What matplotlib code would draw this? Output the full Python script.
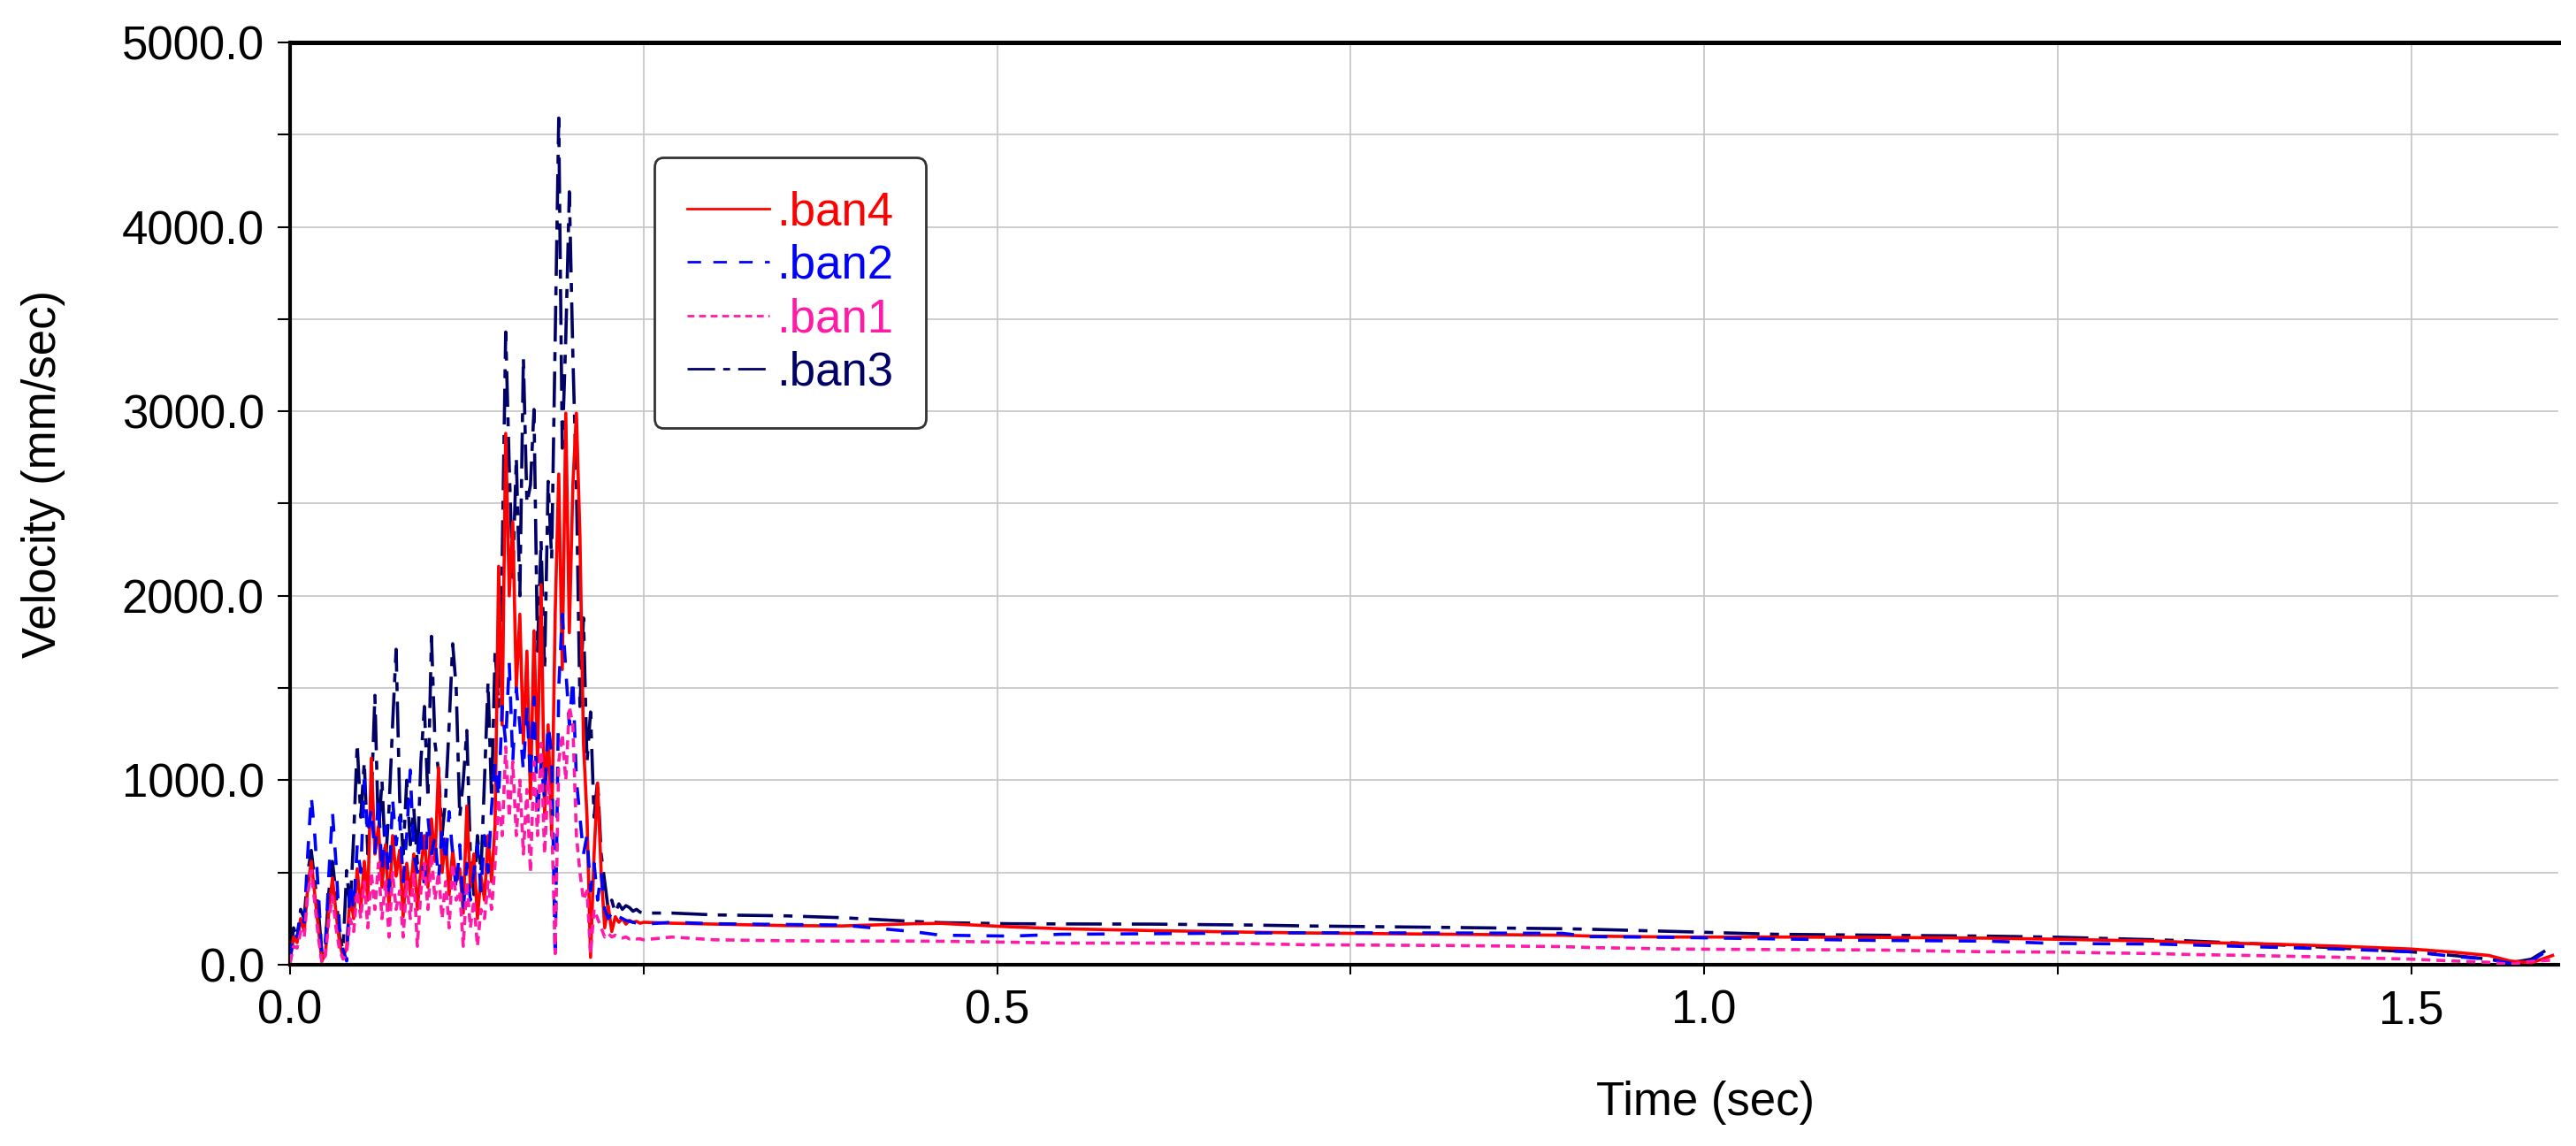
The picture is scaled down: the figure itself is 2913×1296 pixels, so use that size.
import numpy as np
import matplotlib.pyplot as plt

plt.rcParams['font.family'] = ['Liberation Sans', 'DejaVu Sans']

# --- burst phase, sampled every 2.5 ms from 0 to 0.25 s ---
burst_time = np.arange(101) * 0.0025

ban4_burst = [20, 150, 120, 250, 180, 420, 560, 380, 200, 20,
              60, 300, 470, 280, 120, 40, 90, 380, 250, 520,
              300, 560, 350, 1120, 600, 750, 420, 650, 300, 700,
              480, 620, 260, 550, 380, 600, 300, 520, 700, 420,
              790, 560, 1070, 500, 680, 380, 620, 450, 520, 280,
              860, 420, 600, 250, 480, 350, 700, 450, 760, 2160,
              1300, 2880, 2000, 2400, 1500, 1900, 1200, 1700, 900, 1810,
              1100, 2060, 800, 1300, 700, 1900, 2660, 1600, 2990, 1800,
              2600, 2990, 2320, 1200, 800, 40, 600, 985, 500, 200,
              320, 180, 260, 230, 250, 220, 240, 230, 235, 225,
              230]

ban3_burst = [30, 200, 150, 300, 250, 500, 620, 450, 300, 60,
              120, 400, 560, 380, 150, 80, 510, 300, 700, 1200,
              800, 1100, 600, 900, 1460, 700, 1000, 550, 850, 1300,
              1710, 900, 600, 1000, 650, 850, 550, 1100, 1400, 900,
              1780, 1200, 1050, 700, 900, 1300, 1740, 1500, 800, 1000,
              1270, 600, 380, 700, 500, 1000, 1530, 900, 1700, 1400,
              2200, 3430, 2700, 2100, 2750, 2000, 3290, 2500, 2600, 3010,
              1700, 2300, 1600, 2620, 2200, 3380, 4590, 2800, 3400, 4190,
              3300, 2600, 1400, 1880, 1100, 1370, 800, 1000, 600, 450,
              300, 350, 280, 330, 300, 320, 310, 290, 300, 285,
              280]

ban2_burst = [20, 180, 150, 280, 230, 600, 915, 700, 400, 50,
              100, 500, 827, 550, 200, 80, 20, 450, 300, 650,
              500, 1000, 700, 850, 600, 900, 500, 750, 400, 900,
              650, 800, 450, 700, 1055, 600, 500, 750, 400, 800,
              600, 700, 450, 750, 550, 830, 600, 400, 650, 300,
              550, 350, 500, 650, 400, 700, 500, 850, 1100, 900,
              1400, 1200, 1640, 1100, 1500, 1300, 1050, 1400, 1000, 1450,
              800, 1100, 900, 1300, 1150, 30, 1500, 1900, 1600, 1300,
              1550, 1000, 800, 600, 700, 400, 550, 350, 500, 300,
              250, 280, 240, 260, 250, 240, 235, 230, 225, 225,
              220]

ban1_burst = [10, 100, 90, 180, 150, 380, 510, 330, 150, 10,
              50, 250, 370, 200, 80, 30, 60, 250, 180, 400,
              250, 450, 200, 500, 300, 550, 250, 450, 150, 500,
              300, 400, 150, 450, 250, 500, 100, 400, 550, 300,
              600, 350, 500, 250, 450, 200, 550, 350, 400, 100,
              450, 200, 350, 100, 300, 250, 450, 300, 550, 900,
              700, 1180, 800, 1100, 700, 1000, 600, 950, 500, 1100,
              700, 1200, 600, 1000, 800, 60, 1100, 1250, 1000, 1400,
              1300, 700, 500, 350, 400, 60, 300, 250, 200, 150,
              170, 150, 160, 150, 145, 150, 140, 145, 140, 140,
              135]

# --- slow decay phase ---
tail_time = [0.27, 0.30, 0.35, 0.39, 0.44, 0.46, 0.51, 0.545, 0.61, 0.68,
             0.72, 0.82, 0.90, 0.92, 0.98, 1.05, 1.12, 1.20, 1.25, 1.32,
             1.34, 1.40, 1.45, 1.50, 1.53, 1.555, 1.57, 1.585, 1.60]

ban4_tail = [225, 220, 212, 210, 222, 224, 205, 195, 185, 176,
             172, 165, 160, 155, 150, 150, 148, 144, 138, 128,
             122, 112, 100, 85, 68, 50, 20, 10, 50]
ban3_tail = [280, 270, 265, 255, 235, 228, 222, 221, 220, 215,
             210, 202, 195, 192, 180, 165, 160, 155, 149, 135,
             130, 110, 90, 70, 50, 30, 10, 30, 100]
ban2_tail = [230, 222, 218, 215, 180, 160, 155, 165, 168, 172,
             173, 172, 170, 152, 148, 140, 132, 128, 115, 112,
             108, 95, 85, 70, 45, 30, 8, 20, 95]
ban1_tail = [150, 135, 130, 128, 128, 127, 122, 117, 117, 114,
             108, 104, 98, 93, 85, 82, 80, 70, 68, 60,
             56, 48, 40, 30, 20, 13, 2, 18, 25]

time = np.concatenate([burst_time, tail_time])

fig = plt.figure(figsize=(29.13, 12.96), dpi=100)
ax = fig.add_axes([0.1126, 0.1582, 0.8805, 0.8048])

lw = 2.6
l3, = ax.plot(time, ban3_burst + ban3_tail, color='#000066', lw=lw,
              dashes=(11.2, 3.3, 2.8, 3.3), label='.ban3', zorder=3)
l4, = ax.plot(time, ban4_burst + ban4_tail, color='#ff0000', lw=lw,
              label='.ban4', zorder=4)
l2, = ax.plot(time, ban2_burst + ban2_tail, color='#0000ff', lw=lw,
              dashes=(5.5, 5.0), label='.ban2', zorder=5)
l1, = ax.plot(time, ban1_burst + ban1_tail, color='#ff1aa8', lw=lw,
              dashes=(2.8, 1.9), label='.ban1', zorder=6)

ax.set_xlim(0, 1.604)
ax.set_ylim(0, 5000)
ax.set_xticks([0, 0.5, 1.0, 1.5])
ax.set_xticks([0.25, 0.75, 1.25], minor=True)
ax.set_yticks(np.arange(0, 5001, 1000))
ax.set_yticks(np.arange(500, 5000, 1000), minor=True)
ax.xaxis.set_major_formatter(plt.FormatStrFormatter('%.1f'))
ax.yaxis.set_major_formatter(plt.FormatStrFormatter('%.1f'))

ax.set_axisbelow(True)
ax.grid(which='both', color='#c8c8c8', lw=1.3)

ax.tick_params(axis='y', which='both', direction='out', length=10, width=1.5,
               labelsize=38, pad=11)
ax.tick_params(axis='x', which='both', direction='out', length=8, width=1.5,
               labelsize=38, pad=12)

for side in ['left', 'bottom']:
    ax.spines[side].set_linewidth(3)
ax.spines['top'].set_linewidth(3.6)
ax.spines['right'].set_visible(False)

ax.set_xlabel('Time (sec)', fontsize=38)
ax.xaxis.set_label_coords(0.624, -0.126)
ax.set_ylabel('Velocity (mm/sec)', fontsize=38)
ax.yaxis.set_label_coords(-0.099, 0.532)

leg = ax.legend(handles=[l4, l2, l1, l3], loc='upper left',
                bbox_to_anchor=(0.1606, 0.875), borderaxespad=0,
                fontsize=38, labelcolor='linecolor', handlelength=1.76,
                handletextpad=0.15, borderpad=0.7, labelspacing=0.2,
                fancybox=True, framealpha=1)
leg.get_frame().set_edgecolor('#333333')
leg.get_frame().set_linewidth(2)
for line in leg.get_lines():
    line.set_linewidth(2.0)

fig.savefig('out.png', dpi=100)
